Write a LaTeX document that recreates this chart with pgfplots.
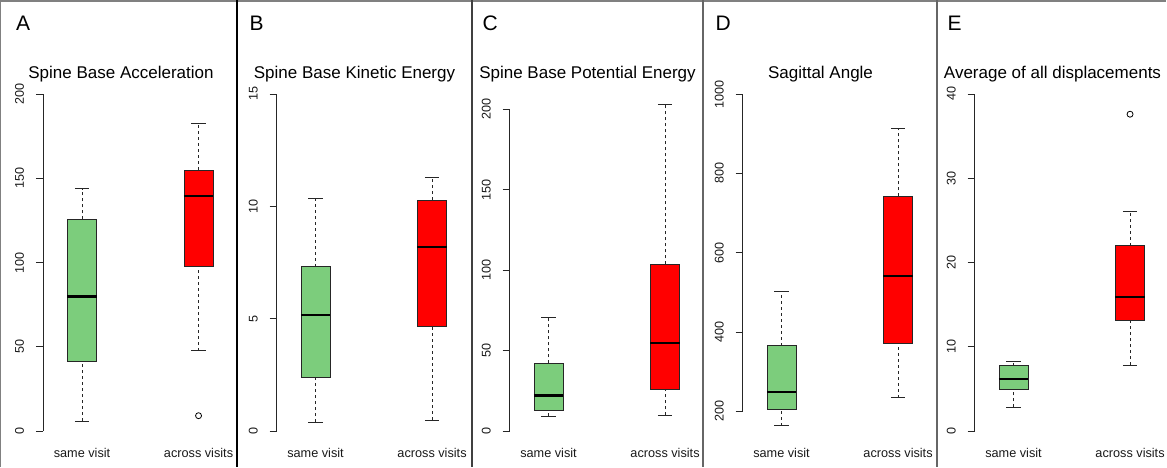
\documentclass[border=0pt]{standalone}
\usepackage{fontspec}
\setmainfont{Liberation Sans}
\usepackage{pgfplots}
\pgfplotsset{compat=1.18}

\definecolor{boxgreen}{HTML}{7CCD7C}
\definecolor{boxred}{HTML}{FF0000}

\pgfplotsset{
  panel/.style={
    scale only axis, width=194pt, height=365pt,
    anchor=south west,
    xmin=0.665, xmax=2.33,
    axis lines*=left, axis line style={draw=none},
    xtick={1,2}, xticklabels={same visit, across visits},
    xtick style={draw=none},
    ytick style={black!85, line width=0.8pt},
    tick align=outside, major tick length=7pt,
    ticklabel style={text=black!90},
    yticklabel style={font=\fontsize{12.6}{15}\selectfont, rotate=90, anchor=base},
    yticklabel shift=12pt,
    xticklabel style={font=\fontsize{12.7}{15}\selectfont, anchor=base, yshift=-5pt},
    /pgf/number format/assume math mode=true,
    /pgf/number format/set thousands separator={},
    clip=false,
  },
  whisk/.style={black!85, line width=0.9pt, dash pattern=on 3pt off 3pt, forget plot},
  cap/.style={black!85, line width=0.9pt, forget plot},
  bx/.style={draw=black!85, line width=0.9pt, forget plot},
  med/.style={black, line width=2.4pt, forget plot},
  outl/.style={only marks, mark=o, mark size=3pt, black, mark options={line width=0.8pt}},
}

% lower whisker, lower quartile, median, upper quartile, upper whisker
\newcommand{\samebox}[5]{%
  \addplot[whisk] coordinates {(1,#1) (1,#2)};
  \addplot[whisk] coordinates {(1,#4) (1,#5)};
  \addplot[cap] coordinates {(0.9375,#1) (1.0625,#1)};
  \addplot[cap] coordinates {(0.9375,#5) (1.0625,#5)};
  \addplot[bx, fill=boxgreen] coordinates {(0.875,#2) (1.125,#2) (1.125,#4) (0.875,#4)} --cycle;
  \addplot[med] coordinates {(0.875,#3) (1.125,#3)};
}
\newcommand{\acrossbox}[5]{%
  \addplot[whisk] coordinates {(2,#1) (2,#2)};
  \addplot[whisk] coordinates {(2,#4) (2,#5)};
  \addplot[cap] coordinates {(1.9375,#1) (2.0625,#1)};
  \addplot[cap] coordinates {(1.9375,#5) (2.0625,#5)};
  \addplot[bx, fill=boxred] coordinates {(1.875,#2) (2.125,#2) (2.125,#4) (1.875,#4)} --cycle;
  \addplot[med] coordinates {(1.875,#3) (2.125,#3)};
}

\newcommand{\paneltitle}[3]{%
  \node[anchor=base west, font=\fontsize{21}{24}\selectfont] at (#1pt+8.5pt,-30pt) {#2};
  \node[anchor=base, font=\fontsize{17}{20}\selectfont] at (#1pt+117pt,-78pt) {#3};}

\begin{document}
\begin{tikzpicture}
\useasboundingbox (0pt,0pt) rectangle (1167pt,-467pt);

% frame and panel separators
\draw[gray, line width=1.5pt] (0pt,-1pt) -- (1166pt,-1pt);
\draw[gray, line width=1pt] (0.8pt,0pt) -- (0.8pt,-467pt);
\draw[black, line width=2pt] (237.3pt,0pt) -- (237.3pt,-467pt);
\draw[black!75, line width=2pt] (471.7pt,0pt) -- (471.7pt,-467pt);
\draw[black!60, line width=2pt] (703.3pt,0pt) -- (703.3pt,-467pt);
\draw[black!60, line width=2pt] (936.7pt,0pt) -- (936.7pt,-467pt);

% A
\paneltitle{4}{A}{Spine Base Acceleration}
\begin{axis}[panel, at={(43pt,-445pt)}, ymin=-8.3, ymax=208.3,
  ytick={0,50,100,150,200}]
  \draw[black!85, line width=0.9pt] (axis cs:0.665,0) -- (axis cs:0.665,200);
  \samebox{5.9}{41.1}{79.9}{125.6}{143.8}
  \acrossbox{47.7}{97.7}{139.3}{154.9}{182.4}
  \addplot[outl] coordinates {(2,9.1)};
\end{axis}

% B
\paneltitle{237.5}{B}{Spine Base Kinetic Energy}
\begin{axis}[panel, at={(276.5pt,-445pt)}, ymin=-0.623, ymax=15.62,
  ytick={0,5,10,15}]
  \draw[black!85, line width=0.9pt] (axis cs:0.665,0) -- (axis cs:0.665,15);
  \samebox{0.39}{2.37}{5.16}{7.31}{10.36}
  \acrossbox{0.49}{4.67}{8.2}{10.28}{11.29}
\end{axis}

% C
\paneltitle{470.5}{C}{Spine Base Potential Energy}
\begin{axis}[panel, at={(509.5pt,-445pt)}, ymin=-8.7, ymax=218.2,
  ytick={0,50,100,150,200}]
  \draw[black!85, line width=0.9pt] (axis cs:0.665,0) -- (axis cs:0.665,200);
  \samebox{9.1}{12.9}{22.2}{42.1}{70.9}
  \acrossbox{9.8}{26.1}{54.7}{103.6}{203.3}
\end{axis}

% D
\paneltitle{703.5}{D}{Sagittal Angle}
\begin{axis}[panel, at={(742.5pt,-445pt)}, ymin=115, ymax=1035.3,
  ytick={200,400,600,800,1000}]
  \draw[black!85, line width=0.9pt] (axis cs:0.665,200) -- (axis cs:0.665,1000);
  \samebox{163.7}{205.8}{249.4}{365.4}{503.3}
  \acrossbox{234.3}{371.5}{540.4}{742.1}{913.6}
\end{axis}

% E
\paneltitle{935.5}{E}{Average of all displacements}
\begin{axis}[panel, at={(974.5pt,-445pt)}, ymin=-1.662, ymax=41.66,
  ytick={0,10,20,30,40}]
  \draw[black!85, line width=0.9pt] (axis cs:0.665,0) -- (axis cs:0.665,40);
  \samebox{2.81}{4.99}{6.17}{7.76}{8.31}
  \acrossbox{7.83}{13.1}{15.87}{22.0}{26.1}
  \addplot[outl] coordinates {(2,37.6)};
\end{axis}
\end{tikzpicture}
\end{document}
